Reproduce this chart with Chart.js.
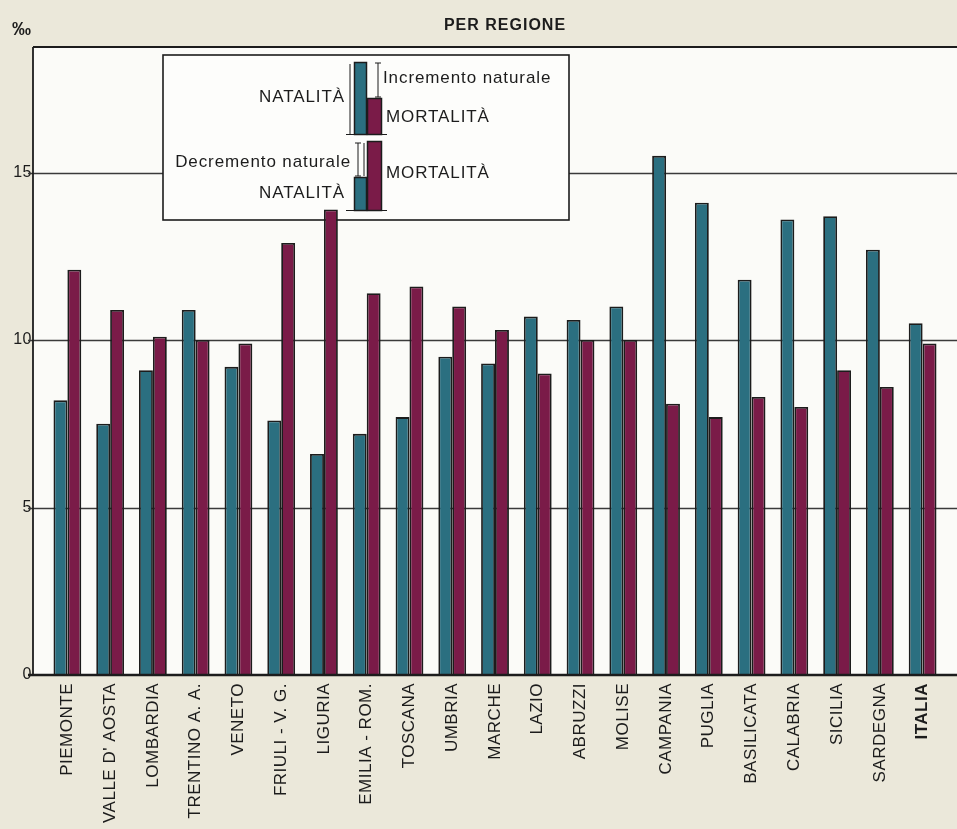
<!DOCTYPE html>
<html>
<head>
<meta charset="utf-8">
<script src="https://cdn.jsdelivr.net/npm/chart.js@4.4.1/dist/chart.umd.min.js"></script>
<style>
  html, body { margin: 0; padding: 0; background: #ebe8da; }
  canvas { display: block; }
</style>
</head>
<body>
<canvas id="chart" width="957" height="829"></canvas>
<script>
// dati (per mille)
var regioni = ['PIEMONTE', "VALLE D' AOSTA", 'LOMBARDIA', 'TRENTINO A. A.', 'VENETO', 'FRIULI - V. G.', 'LIGURIA',
    'EMILIA - ROM.', 'TOSCANA', 'UMBRIA', 'MARCHE', 'LAZIO', 'ABRUZZI', 'MOLISE', 'CAMPANIA', 'PUGLIA',
    'BASILICATA', 'CALABRIA', 'SICILIA', 'SARDEGNA', 'ITALIA']
var natalita = [8.2, 7.5, 9.1, 10.9, 9.2, 7.6, 6.6, 7.2, 7.7, 9.5, 9.3, 10.7, 10.6, 11.0, 15.5, 14.1, 11.8, 13.6, 13.7, 12.7, 10.5]
var mortalita = [12.1, 10.9, 10.1, 10.0, 9.9, 12.9, 13.9, 11.4, 11.6, 11.0, 10.3, 9.0, 10.0, 10.0, 8.1, 7.7, 8.3, 8.0, 9.1, 8.6, 9.9]
var yTicks = [0, 5, 10, 15]

var TEAL = '#2b6f80'
var BORDO = '#7a1b48'
var INK = '#1c1c1c'
var FONT = '"Liberation Sans", Arial, Helvetica, sans-serif'

function line(ctx, x1, y1, x2, y2, w) {
    ctx.lineWidth = w
    ctx.beginPath()
    ctx.moveTo(x1, y1)
    ctx.lineTo(x2, y2)
    ctx.stroke()
}

// piccolo segno a "I" usato nella legenda
function staffa(ctx, x, y1, y2) {
    line(ctx, x, y1, x, y2, 1)
    line(ctx, x - 3, y1, x + 3, y1, 1)
    line(ctx, x - 3, y2, x + 3, y2, 1)
}

function miniBar(ctx, x, top, w, bottom, color) {
    ctx.fillStyle = color
    ctx.fillRect(x, top, w, bottom - top)
    ctx.strokeStyle = INK
    ctx.lineWidth = 1.5
    ctx.strokeRect(x + 0.5, top + 0.5, w - 1, bottom - top)
}

function drawLegend(ctx) {
    ctx.save()
    ctx.fillStyle = '#fdfdfb'
    ctx.fillRect(163, 55, 406, 165)
    ctx.strokeStyle = INK
    ctx.lineWidth = 1.6
    ctx.strokeRect(163, 55, 406, 165)

    // caso incremento
    miniBar(ctx, 354, 62, 13, 134, TEAL)
    miniBar(ctx, 367, 98, 15, 134, BORDO)
    ctx.strokeStyle = INK
    line(ctx, 346, 134.5, 387, 134.5, 1.2)
    line(ctx, 350, 64, 350, 134, 1)
    staffa(ctx, 378, 63, 97)

    // caso decremento
    miniBar(ctx, 367, 141, 15, 210, BORDO)
    miniBar(ctx, 354, 177, 13, 210, TEAL)
    ctx.strokeStyle = INK
    line(ctx, 346, 210.5, 387, 210.5, 1.2)
    staffa(ctx, 358, 143, 176)
    line(ctx, 364, 143, 364, 176, 1)

    ctx.fillStyle = INK
    ctx.font = '17px ' + FONT
    ctx.letterSpacing = '0.9px'
    ctx.textBaseline = 'alphabetic'
    ctx.textAlign = 'right'
    ctx.fillText('NATALITÀ', 345, 102)
    ctx.fillText('Decremento naturale', 351, 167)
    ctx.fillText('NATALITÀ', 345, 198)
    ctx.textAlign = 'left'
    ctx.fillText('Incremento naturale', 383, 83)
    ctx.fillText('MORTALITÀ', 386, 122)
    ctx.fillText('MORTALITÀ', 386, 178)
    ctx.restore()
}

var cornice = {
    id: 'cornice',
    beforeUpdate: function (chart) {
        chart.ctx.letterSpacing = '0.5px'
    },
    beforeDraw: function (chart) {
        var ctx = chart.ctx
        var a = chart.chartArea
        ctx.letterSpacing = '0.5px'
        ctx.save()
        ctx.fillStyle = '#ebe8da'
        ctx.fillRect(0, 0, chart.width, chart.height)
        ctx.fillStyle = '#fbfbf8'
        ctx.fillRect(33, a.top, chart.width - 33, a.bottom - a.top)
        ctx.restore()
    },
    beforeDatasetsDraw: function (chart) {
        var ctx = chart.ctx
        var y = chart.scales.y
        ctx.save()
        ctx.strokeStyle = '#3a3a3a'
        yTicks.forEach(function (v) {
            if (v === 0) return
            var py = Math.round(y.getPixelForValue(v)) + 0.5
            line(ctx, 28, py, chart.width, py, 1.4)
        })
        ctx.restore()
        drawLegend(ctx)
    },
    afterDatasetsDraw: function (chart) {
        var ctx = chart.ctx
        var a = chart.chartArea
        var y0 = chart.scales.y.getPixelForValue(0)
        ctx.save()
        ctx.strokeStyle = INK
        line(ctx, 33, a.top, chart.width, a.top, 1.8)
        line(ctx, 33, a.top, 33, y0, 1.8)
        line(ctx, 28, y0, chart.width, y0, 2.4)
        ctx.fillStyle = INK
        ctx.font = 'bold 16px ' + FONT
        ctx.letterSpacing = '1px'
        ctx.textAlign = 'center'
        ctx.fillText('PER REGIONE', 505, 30)
        ctx.textAlign = 'left'
        ctx.letterSpacing = '0px'
        ctx.font = 'bold 19px ' + FONT
        ctx.fillText('‰', 12, 35)
        ctx.restore()
    }
}

var ctx = document.getElementById('chart').getContext('2d')
var chart = new Chart(ctx, {
    type: 'bar',
    data: {
        labels: regioni,
        datasets: [{
            label: 'NATALITÀ',
            data: natalita,
            backgroundColor: TEAL,
            borderColor: INK,
            borderWidth: 1.8,
            borderSkipped: 'start'
        }, {
            label: 'MORTALITÀ',
            data: mortalita,
            backgroundColor: BORDO,
            borderColor: INK,
            borderWidth: 1.8,
            borderSkipped: 'start'
        }]
    },
    options: {
        responsive: false,
        animation: false,
        devicePixelRatio: 1,
        categoryPercentage: 0.65,
        barPercentage: 1.0,
        layout: { padding: { top: 47, right: 13, left: 0, bottom: 0 } },
        plugins: {
            legend: { display: false },
            tooltip: { enabled: false },
            title: { display: false }
        },
        scales: {
            x: {
                grid: { display: false, drawTicks: false },
                border: { display: false },
                afterFit: function (s) { s.height = 154 },
                ticks: {
                    autoSkip: false,
                    maxRotation: 90,
                    minRotation: 90,
                    padding: 8,
                    color: INK,
                    font: function (c) {
                        return {
                            family: FONT,
                            size: 17,
                            weight: c.index === regioni.length - 1 ? 'bold' : 'normal'
                        }
                    }
                }
            },
            y: {
                min: 0,
                max: 18.75,
                grid: { display: false, drawTicks: false },
                border: { display: false },
                afterFit: function (s) { s.width = 46 },
                afterBuildTicks: function (s) {
                    s.ticks = yTicks.map(function (v) { return { value: v } })
                },
                ticks: {
                    padding: 14,
                    color: INK,
                    font: { family: FONT, size: 16 }
                }
            }
        }
    },
    plugins: [cornice]
})
</script>
</body>
</html>
